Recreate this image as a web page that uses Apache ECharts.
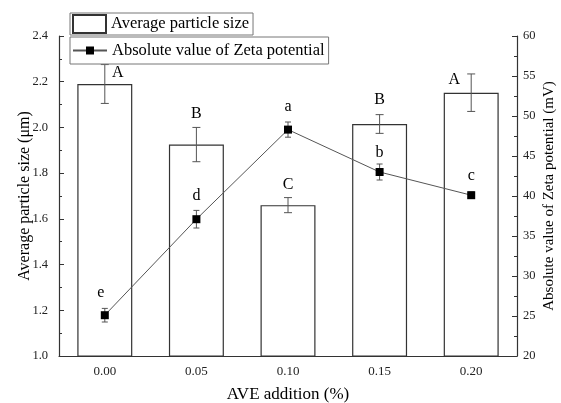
<!DOCTYPE html>
<html>
<head>
<meta charset="utf-8">
<script src="https://cdn.jsdelivr.net/npm/echarts@6/dist/echarts.min.js"></script>
<style>
  html, body { margin: 0; padding: 0; background: #fff; }
  #chart { width: 561px; height: 403px; }
</style>
</head>
<body>
<div id="chart"></div>
<script>
const categories = ['0.00', '0.05', '0.10', '0.15', '0.20']
// average particle size (μm) with error
const sizeValues = [2.19, 1.925, 1.66, 2.015, 2.152]
const sizeErrors = [0.085, 0.075, 0.033, 0.041, 0.082]
const sizeLetters = ['A', 'B', 'C', 'B', 'A']
// absolute value of zeta potential (mV) with error
const zetaValues = [25.1, 37.1, 48.3, 43.0, 40.1]
const zetaErrors = [0.85, 1.1, 0.95, 1.0, 0.4]
const zetaLetters = ['e', 'd', 'a', 'b', 'c']

const serif = 'Liberation Serif, Times New Roman, serif'
// letter offset from error bar top, px
const sizeShift = [[13, 8], [0, -14], [0, -13], [0, -15], [-17, 6]]
const zetaShift = [[-4, -16], [0, -15], [0, -15], [0, -11], [0, -16]]

const errData = (vals, errs) => vals.map((v, i) => [i, v - errs[i], v + errs[i]])

const errRender = (capW, letters, shift) => (params, api) => {
  const i = api.value(0)
  const top = api.coord([i, api.value(2)])
  const bot = api.coord([i, api.value(1)])
  const st = { stroke: '#555', lineWidth: 1 }
  return {
    type: 'group',
    children: [
      { type: 'line', shape: { x1: top[0], y1: top[1], x2: bot[0], y2: bot[1] }, style: st },
      { type: 'line', shape: { x1: top[0] - capW, y1: top[1], x2: top[0] + capW, y2: top[1] }, style: st },
      { type: 'line', shape: { x1: bot[0] - capW, y1: bot[1], x2: bot[0] + capW, y2: bot[1] }, style: st },
      {
        type: 'text',
        x: top[0] + shift[i][0],
        y: top[1] + shift[i][1],
        style: {
          text: letters[i], fill: '#000', font: '16px ' + serif,
          align: 'center', verticalAlign: 'middle',
        },
      },
    ],
  }
}

const myChart = echarts.init(document.getElementById('chart'))
const option = {
  animation: false,
  textStyle: { fontFamily: serif },
  grid: { left: 59, right: 44, top: 36, bottom: 47, outerBoundsMode: 'none', containLabel: false },
  legend: [
    {
      data: [{ name: 'Average particle size', icon: 'rect' }],
      left: 70, top: 13,
      itemWidth: 33, itemHeight: 18, itemGap: 6,
      padding: [1, 4, 1, 2],
      borderColor: '#777', borderWidth: 1,
      textStyle: { fontFamily: serif, fontSize: 16.5, color: '#000' },
    },
    {
      data: ['Absolute value of Zeta potential'],
      left: 70, top: 37,
      itemWidth: 34, itemHeight: 10,
      padding: [5, 4, 5, 2],
      borderColor: '#777', borderWidth: 1,
      textStyle: { fontFamily: serif, fontSize: 16.5, color: '#000' },
    },
  ],
  xAxis: {
    type: 'category',
    data: categories,
    name: 'AVE addition (%)',
    nameLocation: 'middle',
    nameGap: 30,
    nameMoveOverlap: false,
    nameTextStyle: { fontFamily: serif, fontSize: 17, color: '#000' },
    axisLine: { lineStyle: { color: '#333', width: 1.2 } },
    axisTick: { inside: true, alignWithLabel: true, length: 5, lineStyle: { color: '#333' } },
    axisLabel: { color: '#222', fontSize: 13, margin: 9, fontFamily: serif },
  },
  yAxis: [
    {
      type: 'value',
      min: 1.0, max: 2.4, interval: 0.2,
      name: 'Average particle size (μm)',
      nameLocation: 'middle',
      nameGap: 26,
      nameMoveOverlap: false,
      nameTextStyle: { fontFamily: serif, fontSize: 16, color: '#000' },
      axisLine: { show: true, lineStyle: { color: '#333', width: 1.2 } },
      axisTick: { show: true, inside: true, length: 5, lineStyle: { color: '#333' } },
      minorTick: { show: true, splitNumber: 2, length: 3, lineStyle: { color: '#333' } },
      splitLine: { show: false },
      axisLabel: { color: '#222', fontSize: 12.5, margin: 11, fontFamily: serif, formatter: (v) => v.toFixed(1) },
    },
    {
      type: 'value',
      min: 20, max: 60, interval: 5,
      name: 'Absolute value of Zeta potential (mV)',
      nameLocation: 'middle',
      nameGap: 25,
      nameRotate: 90,
      nameMoveOverlap: false,
      nameTextStyle: { fontFamily: serif, fontSize: 15, color: '#000' },
      axisLine: { show: true, lineStyle: { color: '#333', width: 1.2 } },
      axisTick: { show: true, inside: true, length: 5, lineStyle: { color: '#333' } },
      minorTick: { show: true, splitNumber: 2, length: 3, lineStyle: { color: '#333' } },
      splitLine: { show: false },
      axisLabel: { color: '#222', fontSize: 12.5, margin: 6, fontFamily: serif },
    },
  ],
  series: [
    {
      name: 'Average particle size',
      type: 'bar',
      yAxisIndex: 0,
      barWidth: '60%',
      data: sizeValues,
      itemStyle: { color: '#fff', borderColor: '#333', borderWidth: 1.2 },
      z: 1,
    },
    {
      type: 'custom',
      yAxisIndex: 0,
      data: errData(sizeValues, sizeErrors),
      renderItem: errRender(4, sizeLetters, sizeShift),
      z: 3,
    },
    {
      name: 'Absolute value of Zeta potential',
      type: 'line',
      yAxisIndex: 1,
      data: zetaValues,
      symbol: 'rect',
      symbolSize: 8,
      itemStyle: { color: '#000' },
      lineStyle: { color: '#555', width: 1 },
      z: 5,
    },
    {
      type: 'custom',
      yAxisIndex: 1,
      data: errData(zetaValues, zetaErrors),
      renderItem: errRender(3, zetaLetters, zetaShift),
      z: 4,
    },
  ],
}
myChart.setOption(option)
window.addEventListener('resize', () => {
  myChart.resize()
})
</script>
</body>
</html>
